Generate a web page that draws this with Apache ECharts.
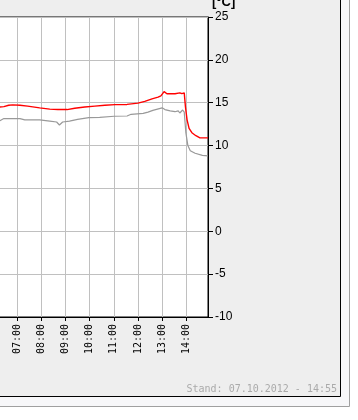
<!DOCTYPE html>
<html><head><meta charset="utf-8">
<script src="https://cdn.jsdelivr.net/npm/echarts@6/dist/echarts.min.js"></script>
<style>html,body{margin:0;padding:0;background:#fff;overflow:hidden}#c{position:absolute;left:-7px;top:0;width:365px;height:420px}</style>
</head><body><div id="c"></div>
<script>
var redTimes = ["06:17","06:27","06:39","06:49","07:07","07:26","07:56","08:21","08:41","09:04","09:23","09:48","10:13","10:38","11:03","11:33","12:00","12:17","12:35","12:50","12:57","13:05","13:12","13:32","13:44","13:49","13:55","13:58","14:02","14:07","14:14","14:24","14:34","14:54"];
var redValues = [14.5,14.55,14.7,14.75,14.7,14.6,14.4,14.25,14.2,14.2,14.35,14.5,14.6,14.7,14.78,14.8,14.95,15.15,15.45,15.65,15.8,16.3,16.05,16.05,16.15,16.05,16.15,14.5,13.0,12.0,11.5,11.15,10.9,10.9];
var grayTimes = ["06:17","06:27","07:07","07:19","07:56","08:21","08:38","08:45","08:53","09:10","09:30","09:58","10:25","11:01","11:33","11:43","12:13","12:25","12:37","13:00","13:07","13:20","13:32","13:40","13:44","13:51","13:55","13:59","14:04","14:10","14:22","14:40","14:54"];
var grayValues = [12.9,13.15,13.15,13.0,13.0,12.85,12.75,12.4,12.75,12.85,13.05,13.25,13.3,13.42,13.45,13.65,13.75,13.9,14.1,14.4,14.2,14.05,13.95,14.05,13.8,14.15,13.9,11.5,10.0,9.4,9.1,8.85,8.8];
var yTicks = [-10,-5,0,5,10,15,20,25];
var unitLabel = "[°C]";
var standText = "Stand: 07.10.2012 - 14:55";

function toH(t){var p=t.split(":");return +p[0]+ +p[1]/60;}
function pair(ts,vs){return ts.map(function(t,i){return [toH(t),vs[i]];});}
function pad(n){return (n<10?"0":"")+n;}

var OX = 7; // container is shifted 7px left of the page
var chart = echarts.init(document.getElementById('c'), null, {renderer:'canvas'});
chart.setOption({
  animation:false,
  backgroundColor:'#ffffff',
  graphic:[
    {type:'rect', z:-100, shape:{x:0,y:-10,width:349.5+OX,height:416.5}, style:{fill:'#f7f7f9',stroke:'#a0a0a0',lineWidth:1}},
    {type:'rect', z:-99, shape:{x:0,y:-10,width:340.5+OX,height:406.5}, style:{fill:'#eeeeee',stroke:'#000000',lineWidth:1}},
    {type:'text', z:10, x:212+OX, y:9, style:{text:unitLabel, font:'bold 13px "Liberation Sans", Arial, sans-serif', fill:'#000', verticalAlign:'bottom'}},
    {type:'text', z:10, x:337+OX, y:389, style:{text:standText, font:'10px "DejaVu Sans Mono", monospace', fill:'#aaaaaa', align:'right', verticalAlign:'middle'}}
  ],
  grid:{left:0, right:150, top:17, bottom:103, show:true, backgroundColor:'#ffffff', borderColor:'#000000', borderWidth:1},
  xAxis:{
    type:'value', min:6, max:14.9, interval:1,
    axisLine:{show:true, onZero:false, lineStyle:{color:'#000', width:1}},
    axisTick:{show:true, length:4, lineStyle:{color:'#000'}},
    axisLabel:{rotate:90, margin:7, color:'#000', fontSize:10, fontFamily:'"DejaVu Sans Mono", monospace',
      showMaxLabel:false, showMinLabel:false,
      formatter:function(v){return Number.isInteger(v)? pad(v)+':00' : '';}},
    splitLine:{show:true, lineStyle:{color:'#c0c0c0', width:1}}
  },
  yAxis:{
    type:'value', position:'right', min:yTicks[0], max:yTicks[yTicks.length-1], interval:5,
    axisLine:{show:true, onZero:false, lineStyle:{color:'#000', width:1}},
    axisTick:{show:true, length:5, lineStyle:{color:'#000'}},
    axisLabel:{margin:7, color:'#000', fontSize:12, fontFamily:'"Liberation Sans", Arial, sans-serif'},
    splitLine:{show:true, lineStyle:{color:'#c0c0c0', width:1}}
  },
  series:[
    {type:'line', data:pair(grayTimes,grayValues), showSymbol:false, lineStyle:{color:'#999999', width:1.2}, z:2},
    {type:'line', data:pair(redTimes,redValues), showSymbol:false, lineStyle:{color:'#ff0000', width:1.4}, z:3}
  ]
});
</script></body></html>
